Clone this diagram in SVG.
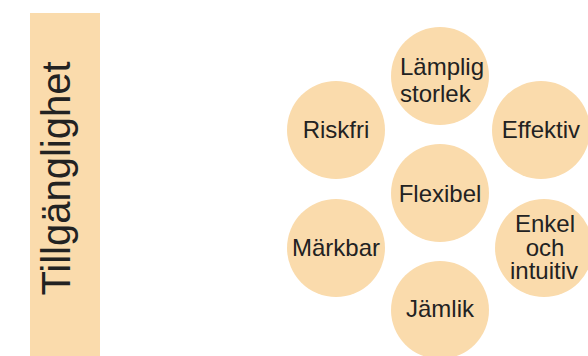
<svg xmlns="http://www.w3.org/2000/svg" width="588" height="356" viewBox="0 0 588 356">
<style>
.c{fill:#FADBAC}
.t{font-family:"Liberation Sans",Arial,sans-serif;font-size:24px;fill:#222;text-anchor:middle}
.l{text-anchor:start}
</style>
<rect width="588" height="356" fill="#fff"/>
<g id="title">
<rect x="30" y="13" width="70" height="343" fill="#FADBAC"/>
<text class="t" style="font-size:40px" transform="translate(70,178.5) rotate(-90)">Tillgänglighet</text>
</g>
<g id="lamplig"><circle class="c" cx="440" cy="76" r="49"/><text class="t l" x="400" y="75">Lämplig</text><text class="t l" x="400" y="102">storlek</text></g>
<g id="riskfri"><circle class="c" cx="336" cy="130" r="49"/><text class="t" x="336" y="138">Riskfri</text></g>
<g id="effektiv"><circle class="c" cx="541" cy="130" r="49"/><text class="t" x="541" y="138">Effektiv</text></g>
<g id="flexibel"><circle class="c" cx="440" cy="193" r="49"/><text class="t" x="440" y="202">Flexibel</text></g>
<g id="markbar"><circle class="c" cx="336" cy="248" r="49"/><text class="t" x="336" y="256">Märkbar</text></g>
<g id="enkel"><circle class="c" cx="544" cy="248" r="49"/><text class="t" x="545" y="232">Enkel</text><text class="t" x="545" y="256">och</text><text class="t" x="544" y="279">intuitiv</text></g>
<g id="jamlik"><circle class="c" cx="440" cy="310" r="49"/><text class="t" x="440" y="317">Jämlik</text></g>
<g id="connectors"></g>
</svg>
